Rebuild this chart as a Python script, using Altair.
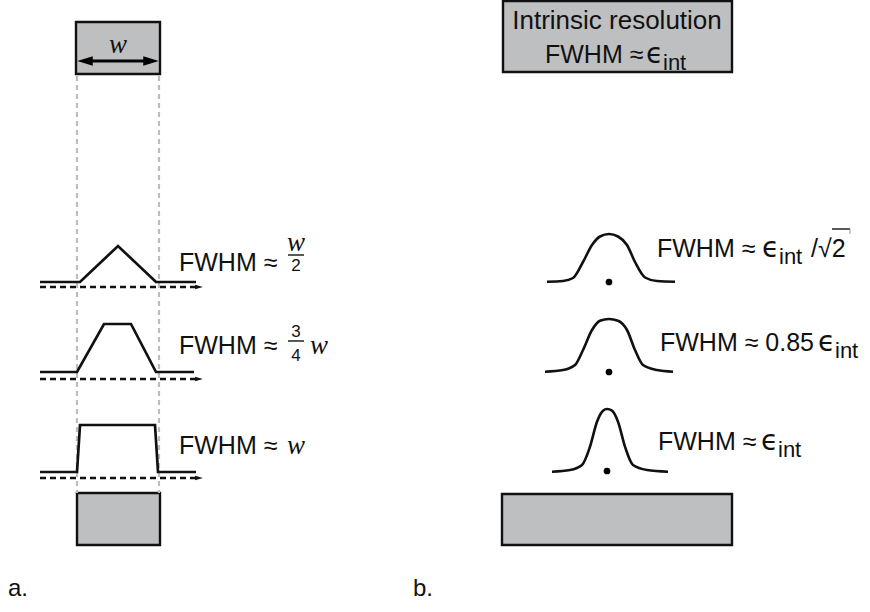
import altair as alt
import pandas as pd

W, H = 870, 612

# ---- shapes (diagram units = pixels, y downward) ----
box_x1 = [76, 77, 503, 502]
box_x2 = [160, 160, 732, 732]
box_y1 = [22, 493, 1, 494]
box_y2 = [74, 545, 72, 545]

guide_x = [77, 159]
guide_y1, guide_y2 = 76, 493

# response profiles of the left panel
tri_x = [40, 80, 118, 156, 196]
tri_y = [282, 282, 246, 282, 282]
trap_x = [40, 77, 104, 131, 156, 194]
trap_y = [372, 372, 324, 324, 372, 372]
rect_x = [40, 77, 80, 155, 158, 196]
rect_y = [472, 472, 425, 425, 472, 472]

# baseline axes (dashed, with arrowhead)
axis_y = [287, 379, 478]
axis_x1, axis_x2 = 40, 196
axis_head_x = 199

# gaussians of the right panel
g1_x = [547, 563, 573, 583, 592, 600, 609, 618, 627, 635, 645, 657, 675]
g1_y = [281.7, 281, 278, 262, 245, 236.5, 234, 236.5, 245, 262, 277.5, 281, 281.7]
g2_x = [545, 563, 575, 583, 592, 600, 609, 618, 627, 635, 643, 657, 673]
g2_y = [371.7, 370, 365, 350, 330, 320.7, 319, 320.7, 330, 350, 365, 370, 371.7]
g3_x = [552, 570, 582, 590, 597, 603, 607, 612, 618, 625, 633, 647, 668]
g3_y = [471.7, 470, 465, 446.7, 421.7, 410.7, 409, 410.7, 421.7, 446.7, 465, 470, 471.7]

dot_x = [609, 609, 607]
dot_y = [282, 372, 471]

def poly(name, xs, ys):
    return pd.DataFrame({"id": name, "i": range(len(xs)), "x": xs, "y": ys})

profiles = pd.concat([poly("tri", tri_x, tri_y), poly("trap", trap_x, trap_y),
                      poly("rect", rect_x, rect_y)])
gauss = pd.concat([poly("g1", g1_x, g1_y), poly("g2", g2_x, g2_y), poly("g3", g3_x, g3_y)])

xs = alt.Scale(domain=[0, W], range=[0, W])
ys = alt.Scale(domain=[0, H], range=[0, H])
X = lambda f: alt.X(f, type="quantitative", scale=xs, axis=None)
Y = lambda f: alt.Y(f, type="quantitative", scale=ys, axis=None)

boxes = alt.Chart(pd.DataFrame({"x": box_x1, "x2": box_x2, "y": box_y1, "y2": box_y2})).mark_rect(
    fill="#bebfc1", stroke="#111", strokeWidth=2.4
).encode(x=X("x"), x2="x2", y=Y("y"), y2="y2")

guides = alt.Chart(pd.DataFrame({"x": guide_x, "y": guide_y1, "y2": guide_y2})).mark_rule(
    color="#bdbdbd", strokeWidth=2.2, strokeDash=[5, 4]
).encode(x=X("x"), y=Y("y"), y2="y2")

prof = alt.Chart(profiles).mark_line(color="#111", strokeWidth=2.7, strokeJoin="miter").encode(
    x=X("x"), y=Y("y"), detail="id:N", order="i:Q")

axes = alt.Chart(pd.DataFrame({"x": axis_x1, "x2": axis_x2, "y": axis_y})).mark_rule(
    color="#111", strokeWidth=2.3, strokeDash=[6, 4]
).encode(x=X("x"), x2="x2", y=Y("y"))

heads = alt.Chart(pd.DataFrame({"x": axis_head_x, "y": axis_y})).mark_point(
    shape="M-1,-0.6L1,0L-1,0.6Z", filled=True, color="#111", opacity=1, size=60
).encode(x=X("x"), y=Y("y"))

gl = alt.Chart(gauss).mark_line(color="#111", strokeWidth=2.6, interpolate="monotone").encode(
    x=X("x"), y=Y("y"), detail="id:N", order="i:Q")

dots = alt.Chart(pd.DataFrame({"x": dot_x, "y": dot_y})).mark_circle(
    color="#000", opacity=1, size=45).encode(x=X("x"), y=Y("y"))

# double arrow showing the width w
warrow = alt.Chart(pd.DataFrame({"x": [84], "x2": [152], "y": [61]})).mark_rule(
    color="#000", strokeWidth=2.8).encode(x=X("x"), x2="x2", y=Y("y"))
wheads = alt.Chart(pd.DataFrame({"x": [85, 151], "y": [61, 61],
                                 "s": ["M1,-0.6L-1,0L1,0.6Z", "M-1,-0.6L1,0L-1,0.6Z"]})).mark_point(
    filled=True, color="#000", opacity=1, size=240
).encode(x=X("x"), y=Y("y"), shape=alt.Shape("s:N", scale=None, legend=None))

# ---- text ----
SANS = "Liberation Sans"
FS = 25

def txt(df, **kw):
    return alt.Chart(df).mark_text(baseline="alphabetic", **kw).encode(
        x=X("x"), y=Y("y"), text="t:N")

main_txt = pd.DataFrame({
    "t": ["FWHM ≈", "FWHM ≈", "FWHM ≈", "FWHM ≈", "FWHM ≈ 0.85", "FWHM ≈", "FWHM ≈"],
    "x": [179, 179, 179, 657, 660, 658, 545],
    "y": [271, 354, 454, 257, 351, 450, 63],
})
frac_txt = pd.DataFrame({"t": ["2", "3", "4"], "x": [296, 296, 296], "y": [271, 337, 361]})
box_txt = pd.DataFrame({"t": ["Intrinsic resolution"], "x": [617], "y": [29]})
eps_txt = pd.DataFrame({"t": ["ϵ", "ϵ", "ϵ", "ϵ"], "x": [762, 818, 761, 646], "y": [257, 351, 450, 63]})
sub_txt = pd.DataFrame({"t": ["int"] * 4, "x": [779, 835, 778, 663], "y": [264, 358, 457, 70]})
w_txt = pd.DataFrame({"t": ["w", "w", "w", "w"], "x": [118, 296, 319, 296], "y": [53, 251, 354, 454]})
sqrt_txt = pd.DataFrame({"t": ["/√2"], "x": [811], "y": [257]})
panel_txt = pd.DataFrame({"t": ["a.", "b."], "x": [8, 413], "y": [596, 596]})

texts = [
    txt(main_txt, font=SANS, fontSize=FS, align="left", color="#111"),
    txt(box_txt, font=SANS, fontSize=26, align="center", color="#111"),
    txt(frac_txt, font=SANS, fontSize=17, align="center", color="#111"),
    txt(eps_txt, font="DejaVu Sans", fontSize=28, align="left", color="#111"),
    txt(sub_txt, font=SANS, fontSize=22, align="left", color="#111"),
    txt(w_txt, font="Liberation Serif", fontStyle="italic", fontSize=27, align="center", color="#111"),
    txt(sqrt_txt, font=SANS, fontSize=FS, align="left", color="#111"),
    txt(panel_txt, font=SANS, fontSize=24, align="left", color="#111"),
]

# fraction bars and the radical's overline
bars = alt.Chart(pd.DataFrame({"x": [288, 288, 832], "x2": [304, 304, 850], "y": [255, 341, 229]})).mark_rule(
    color="#111", strokeWidth=1.4).encode(x=X("x"), x2="x2", y=Y("y"))
tick = alt.Chart(pd.DataFrame({"x": [850], "y": [229], "y2": [234]})).mark_rule(
    color="#999", strokeWidth=1).encode(x=X("x"), y=Y("y"), y2="y2")

chart = alt.layer(boxes, guides, prof, axes, heads, gl, dots, warrow, wheads, bars, tick, *texts).properties(
    width=W, height=H, padding=0, autosize=alt.AutoSizeParams(type="none"),
    background="white"
).configure_view(stroke=None)

chart.save("out.html", embed_options={"renderer": "svg", "actions": False})
